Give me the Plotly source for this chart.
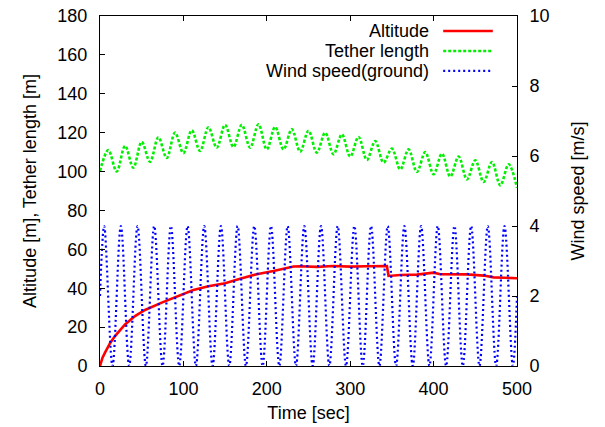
import plotly.graph_objects as go

# ---------------- data ----------------
alt_t = [0, 3, 6, 12, 18, 30, 42, 54, 74, 94, 112, 130, 150, 168, 188, 208, 222,
         232, 240, 260, 280, 300, 320, 344, 346, 360, 380, 395, 400, 408, 420,
         440, 460, 472, 485, 500]
alt_v = [0, 4.3, 6.9, 11.7, 15.4, 21.4, 25.7, 28.8, 32.6, 36.0, 39.1, 41.0, 42.6,
         44.9, 47.2, 48.9, 50.2, 51.2, 51.3, 51.0, 51.4, 51.1, 51.3, 51.4, 46.3,
         46.8, 47.0, 47.5, 48.0, 47.2, 47.3, 47.1, 46.5, 45.6, 45.4, 45.1]

tether_t = [0, 10, 20, 30, 40, 50, 60, 70, 80, 90, 100, 110, 120, 130, 140, 150,
            160, 170, 180, 190, 200, 210, 220, 230, 240, 250, 260, 270, 280, 290,
            300, 310, 320, 330, 340, 350, 360, 370, 380, 390, 400, 410, 420, 430,
            440, 450, 460, 470, 480, 490, 500]
tether_v = [100.3, 111.0, 100.0, 113.2, 102.0, 115.3, 105.0, 117.6, 107.0, 120.0,
            109.5, 121.2, 110.6, 122.8, 112.3, 124.0, 112.6, 124.0, 112.3, 124.3,
            111.4, 123.0, 111.4, 121.8, 110.2, 121.0, 109.7, 120.0, 108.9, 119.1,
            107.7, 117.8, 106.0, 115.7, 104.6, 111.8, 101.1, 111.4, 99.8, 110.0,
            98.6, 109.2, 97.4, 107.7, 96.0, 105.8, 94.6, 104.9, 92.9, 103.7, 91.7]

wind_t = [0, 5, 15, 25, 35, 45, 55, 65, 75, 85, 95, 105, 115, 125, 135, 145, 155,
          165, 175, 185, 195, 205, 215, 225, 235, 245, 255, 265, 275, 285, 295,
          305, 315, 325, 335, 345, 355, 365, 375, 385, 395, 405, 415, 425, 435,
          445, 455, 465, 475, 485, 495, 500]
wind_v = [2, 4, 0, 4, 0, 4, 0, 4, 0, 4, 0, 4, 0, 4, 0, 4, 0, 4, 0, 4, 0, 4, 0, 4,
          0, 4, 0, 4, 0, 4, 0, 4, 0, 4, 0, 4, 0, 4, 0, 4, 0, 4, 0, 4, 0, 4, 0, 4,
          0, 4, 0, 2]

x_ticks = [0, 100, 200, 300, 400, 500]
y_ticks = [0, 20, 40, 60, 80, 100, 120, 140, 160, 180]
y2_ticks = [0, 2, 4, 6, 8, 10]

names = ["Altitude", "Tether length", "Wind speed(ground)"]
colors = ["#ff0000", "#00f000", "#0000ff"]
dashes = ["solid", "3px,2px", "2px,3px"]
widths = [2.6, 2.6, 2.2]

FONT = "Liberation Sans, Arial, Helvetica, sans-serif"

fig = go.Figure()
fig.add_trace(go.Scatter(x=wind_t, y=wind_v, name=names[2], mode="lines",
                         line=dict(color=colors[2], width=widths[2], dash=dashes[2],
                                   shape="spline", smoothing=1.0),
                         yaxis="y2", showlegend=False))
fig.add_trace(go.Scatter(x=tether_t, y=tether_v, name=names[1], mode="lines",
                         line=dict(color=colors[1], width=widths[1], dash=dashes[1],
                                   shape="spline", smoothing=1.0),
                         showlegend=False))
fig.add_trace(go.Scatter(x=alt_t, y=alt_v, name=names[0], mode="lines",
                         line=dict(color=colors[0], width=widths[0], dash=dashes[0]),
                         showlegend=False))

# gnuplot-style key: right-aligned text, sample line on its right
key_rows = [0.957, 0.900, 0.843]
for name, col, dsh, w, ky in zip(names, colors, dashes, widths, key_rows):
    fig.add_annotation(xref="paper", yref="paper", x=0.792, y=ky, text=name,
                       showarrow=False, xanchor="right", yanchor="middle",
                       height=20, borderpad=0, valign="middle",
                       font=dict(family=FONT, size=18, color="black"))
    fig.add_shape(type="line", xref="paper", yref="paper", x0=0.823, x1=0.942,
                  y0=ky, y1=ky, line=dict(color=col, width=w, dash=dsh))

axis_common = dict(showline=True, linecolor="black", linewidth=1, automargin=False,
                   ticks="inside", ticklen=5, tickcolor="black", showgrid=False,
                   zeroline=False, tickfont=dict(family=FONT, size=18, color="black"))

fig.update_layout(
    width=605, height=427,
    margin=dict(l=100, r=88, t=16, b=61),
    paper_bgcolor="white", plot_bgcolor="white",
    font=dict(family=FONT, size=18, color="black"),
    showlegend=False,
    xaxis=dict(range=[0, 500], tickvals=x_ticks, mirror="ticks",
               ticklabelstandoff=6,
               title=dict(text="Time [sec]", standoff=8,
                          font=dict(family=FONT, size=18)),
               **axis_common),
    yaxis=dict(range=[0, 180], tickvals=y_ticks, mirror=True,
               ticklabelstandoff=8,
               title=dict(text="Altitude [m], Tether length [m]", standoff=16,
                          font=dict(family=FONT, size=18)),
               **axis_common),
    yaxis2=dict(range=[0, 10], tickvals=y2_ticks, overlaying="y", side="right",
                ticklabelstandoff=8,
                title=dict(text="Wind speed [m/s]", standoff=22,
                           font=dict(family=FONT, size=18)),
                **axis_common),
)

fig.write_html("out.html")
